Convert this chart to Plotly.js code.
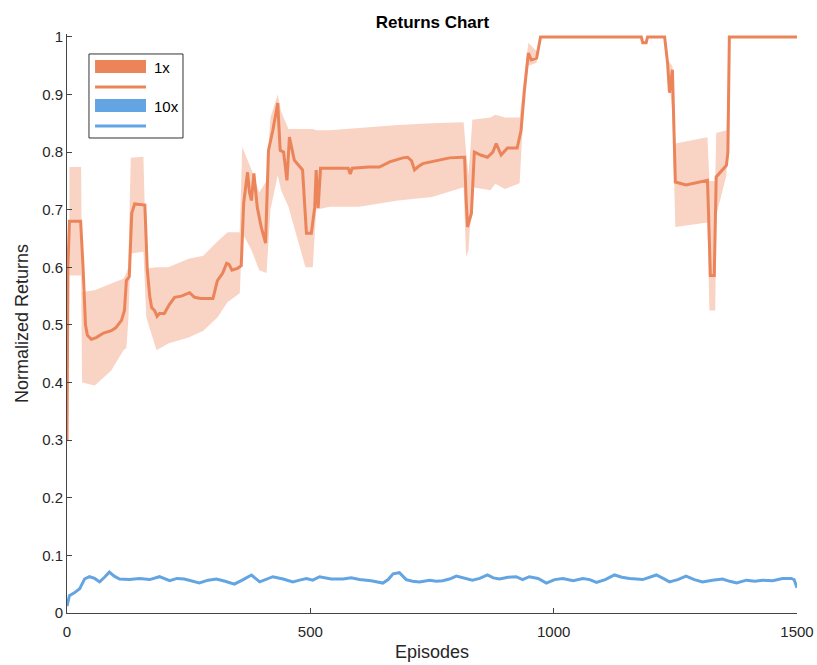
<!DOCTYPE html>
<html>
<head>
<meta charset="utf-8">
<script src="https://cdn.plot.ly/plotly-3.0.1.min.js"></script>
<style>html,body{margin:0;padding:0;background:#fff;}#chart{width:817px;height:665px;}</style>
</head>
<body>
<div id="chart"></div>
<script>
// ---- 1x mean curve ----
const meanEp = [0,2,5,28,33,38,42,50,60,75,91,100,112,118,122,128,133,139,160,165,170,174,180,185,190,200,210,221,235,252,262,275,300,309,320,328,333,339,350,358,363,367,371,375,379,384,391,399,408,414,423,433,438,445,452,457,467,484,492,502,509,512,516,521,540,560,578,582,586,620,642,663,690,700,708,714,722,731,765,786,813,817,820,823,831,837,850,864,875,882,892,905,925,933,940,948,954,965,973,1180,1183,1190,1193,1228,1234,1238,1244,1246,1250,1272,1299,1316,1318,1322,1330,1334,1355,1358,1361,1500];
const meanVal = [0.30,0.60,0.68,0.68,0.60,0.50,0.482,0.475,0.478,0.486,0.49,0.495,0.508,0.525,0.577,0.584,0.694,0.71,0.708,0.595,0.55,0.53,0.525,0.515,0.52,0.52,0.535,0.548,0.55,0.556,0.548,0.546,0.546,0.577,0.59,0.607,0.605,0.595,0.598,0.603,0.711,0.74,0.765,0.73,0.716,0.763,0.704,0.67,0.642,0.803,0.838,0.885,0.803,0.80,0.751,0.826,0.786,0.769,0.659,0.659,0.704,0.769,0.703,0.772,0.772,0.771,0.772,0.762,0.772,0.774,0.774,0.783,0.79,0.791,0.785,0.769,0.775,0.78,0.786,0.79,0.791,0.791,0.72,0.67,0.694,0.80,0.795,0.791,0.80,0.815,0.795,0.807,0.807,0.838,0.908,0.972,0.96,0.963,1.0,1.0,0.99,0.99,1.0,1.0,0.955,0.903,0.943,0.868,0.748,0.743,0.748,0.751,0.70,0.586,0.586,0.757,0.777,0.80,1.0,1.0];

// ---- 1x shaded band ----
const bandEp    = [5,29,31,57,91,116,122,126,131,157,163,184,208,250,280,309,330,355,360,379,395,410,418,433,440,455,490,505,512,540,600,680,750,815,820,825,833,870,880,900,930,940,948,965,973,1228,1234,1244,1250,1316,1320,1332,1334,1355,1361,1500];
const bandUpper = [0.774,0.774,0.557,0.56,0.572,0.58,0.59,0.60,0.79,0.792,0.598,0.60,0.60,0.615,0.62,0.645,0.661,0.661,0.809,0.77,0.73,0.75,0.86,0.90,0.87,0.84,0.84,0.84,0.838,0.838,0.842,0.847,0.85,0.852,0.80,0.76,0.856,0.86,0.865,0.86,0.86,0.93,0.99,0.975,1.0,1.0,0.96,0.95,0.815,0.826,0.75,0.75,0.833,0.838,1.0,1.0];
const bandLower = [0.586,0.586,0.40,0.395,0.421,0.456,0.46,0.508,0.624,0.627,0.513,0.456,0.468,0.478,0.49,0.513,0.54,0.555,0.66,0.63,0.595,0.59,0.70,0.76,0.734,0.705,0.60,0.60,0.70,0.705,0.705,0.716,0.722,0.739,0.618,0.63,0.739,0.734,0.745,0.736,0.746,0.90,0.95,0.955,1.0,1.0,0.95,0.868,0.67,0.678,0.525,0.525,0.69,0.76,1.0,1.0];

// ---- 10x mean curve ----
const blueEp  = [0,5,15,26,36,46,57,67,77,87,97,108,128,149,170,190,211,226,241,256,272,290,307,325,344,362,379,396,410,423,444,464,478,492,505,519,543,567,584,601,625,649,660,670,683,697,710,724,745,759,772,786,800,817,833,848,864,876,889,906,923,936,950,968,985,1002,1019,1040,1060,1074,1088,1106,1125,1140,1156,1183,1211,1225,1238,1255,1272,1289,1306,1326,1347,1362,1376,1396,1413,1430,1450,1470,1488,1494,1500];
const blueVal = [0.012,0.03,0.035,0.042,0.059,0.063,0.06,0.054,0.062,0.071,0.064,0.059,0.058,0.06,0.058,0.063,0.056,0.06,0.059,0.056,0.052,0.057,0.059,0.055,0.05,0.058,0.066,0.054,0.058,0.063,0.059,0.054,0.057,0.06,0.057,0.063,0.059,0.059,0.061,0.058,0.056,0.052,0.058,0.068,0.07,0.058,0.055,0.054,0.057,0.055,0.056,0.059,0.064,0.06,0.057,0.06,0.066,0.061,0.059,0.062,0.063,0.058,0.063,0.06,0.052,0.058,0.06,0.056,0.06,0.058,0.053,0.058,0.066,0.062,0.06,0.058,0.066,0.06,0.054,0.058,0.064,0.058,0.054,0.057,0.059,0.055,0.052,0.057,0.055,0.057,0.056,0.06,0.06,0.058,0.044];

const seriesNames = ['1x', '10x'];
const xTicks = [0,500,1000,1500];
const yTicks = [0,0.1,0.2,0.3,0.4,0.5,0.6,0.7,0.8,0.9,1];
const yTickText = ['0','0.1','0.2','0.3','0.4','0.5','0.6','0.7','0.8','0.9','1'];

const orange = '#EC8459';
const blue = '#63A4E3';
const bandFill = 'rgba(238,132,92,0.36)';
const FONT = 'Liberation Sans, Arial, sans-serif';

const poly = (ep, up, lo) => ({
  x: ep.concat(ep.slice().reverse()),
  y: up.concat(lo.slice().reverse())
});
const bp = poly(bandEp, bandUpper, bandLower);

const traces = [
  {x: bp.x, y: bp.y, type:'scatter', mode:'lines', fill:'toself', fillcolor: bandFill,
   line:{width:0, color:'rgba(0,0,0,0)'}, name: seriesNames[0]+' band', showlegend:false, hoverinfo:'skip'},
  {x: meanEp, y: meanVal, type:'scatter', mode:'lines', line:{color: orange, width:3}, name: seriesNames[0], showlegend:false},
  {x: blueEp, y: blueVal, type:'scatter', mode:'lines', line:{color: blue, width:3}, name: seriesNames[1], showlegend:false}
];

// manual MATLAB-style legend (paper coordinates)
const L = {x0:0.0301, x1:0.1589, y0:0.8204, y1:0.9655, sx0:0.0384, sx1:0.1082, tx:0.1164};
const legendRows = [
  {color: orange, patch:[0.9326,0.9551], line:0.9085, ty:0.9430, text: seriesNames[0]},
  {color: blue,   patch:[0.8653,0.8877], line:0.8411, ty:0.8756, text: seriesNames[1]}
];
const shapes = [{type:'rect', xref:'paper', yref:'paper', x0:L.x0, x1:L.x1, y0:L.y0, y1:L.y1,
                 line:{color:'#333', width:1}, fillcolor:'#fff', layer:'above'}];
const annotations = [];
legendRows.forEach(r => {
  shapes.push({type:'rect', xref:'paper', yref:'paper', x0:L.sx0, x1:L.sx1, y0:r.patch[0], y1:r.patch[1],
               line:{width:0}, fillcolor:r.color, layer:'above'});
  shapes.push({type:'line', xref:'paper', yref:'paper', x0:L.sx0, x1:L.sx1, y0:r.line, y1:r.line,
               line:{color:r.color, width:3}, layer:'above'});
  annotations.push({xref:'paper', yref:'paper', x:L.tx, y:r.ty, xanchor:'left', yanchor:'middle',
                    text:r.text, showarrow:false, font:{family:FONT, size:15, color:'#000'}});
});

const axisCommon = {
  showgrid:false, zeroline:false, showline:true, linecolor:'#444', linewidth:1,
  ticks:'inside', ticklen:5, tickcolor:'#444', tickwidth:1,
  tickfont:{family:FONT, size:15, color:'#262626'}
};

const layout = {
  width:817, height:665,
  margin:{l:67, r:20, t:34, b:52},
  paper_bgcolor:'#fff', plot_bgcolor:'#fff',
  font:{family:FONT, color:'#262626'},
  title:{text:'<b>Returns Chart</b>', x:0.5293, xanchor:'center', y:0.967, yanchor:'middle',
         font:{family:FONT, size:17, color:'#000'}},
  xaxis: Object.assign({}, axisCommon, {
    range:[0,1500], tickvals:xTicks, ticktext:xTicks.map(String), ticklabelstandoff:5,
    title:{text:'Episodes', standoff:6, font:{family:FONT, size:18, color:'#262626'}}
  }),
  yaxis: Object.assign({}, axisCommon, {
    range:[0,1.005], tickvals:yTicks, ticktext:yTickText,
    title:{text:'Normalized Returns', standoff:8, font:{family:FONT, size:18, color:'#262626'}}
  }),
  shapes: shapes,
  annotations: annotations,
  showlegend:false
};

Plotly.newPlot('chart', traces, layout, {displayModeBar:false, staticPlot:true});
</script>
</body>
</html>
